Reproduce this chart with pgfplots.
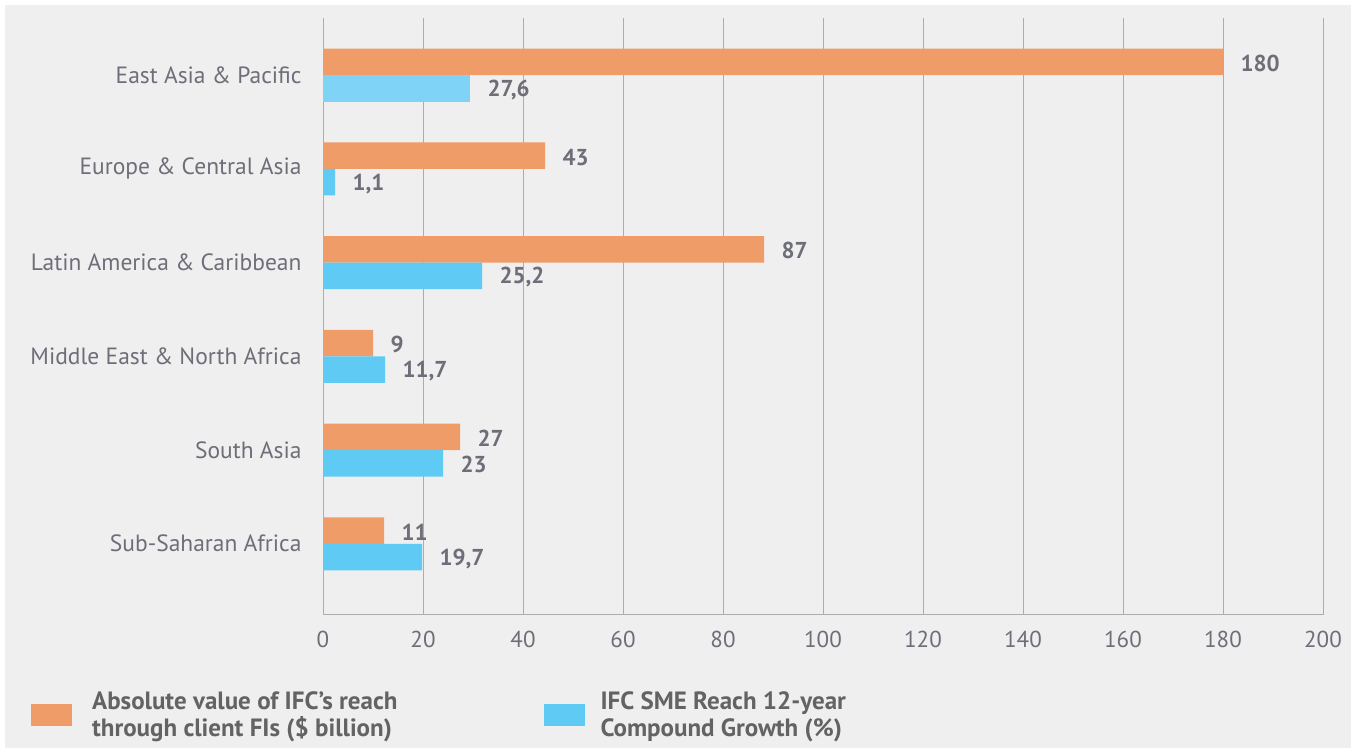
\documentclass[border=0pt]{standalone}
\usepackage{pgfplots}
\pgfplotsset{compat=1.18}
\usepackage{pgfplotstable}
\usepackage{fontspec}
\setmainfont{PT Sans}
\definecolor{bg}{HTML}{EFEFEF}
\definecolor{orng}{HTML}{F09C68}
\definecolor{blu}{HTML}{5FCBF5}
\definecolor{lblu}{HTML}{7FD3F6}
\definecolor{txt}{HTML}{6D6E78}
\definecolor{legtxt}{HTML}{636363}
\definecolor{grd}{HTML}{ADADAD}

\pgfplotstableread{
y orange olab
5 180  180
4 44.4 43
3 88.2 87
2 10   9
1 27.4 27
0 12.2 11
}\orangedata
\pgfplotstableread{
y blue blab
4 2.4  1,1
3 31.8 25,2
2 12.4 11,7
1 24   23
0 19.8 19,7
}\bluedata
\pgfplotstableread{
y blue blab
5 29.4 27,6
}\bluetop

\begin{document}
\begin{tikzpicture}[x=1bp,y=1bp]
\fill[white] (0,0) rectangle (1351,753);
\fill[bg] (5,5) rectangle (1351,748);
\begin{axis}[
  at={(323bp,138bp)}, anchor=south west,
  scale only axis, width=1000bp, height=597bp,
  xbar, bar width=26.5bp,
  xmin=0, xmax=200, ymin=-0.76, ymax=5.61,
  xtick={0,20,...,200},
  ytick={0,1,2,3,4,5},
  yticklabels={Sub-Saharan Africa, South Asia, Middle East \& North Africa, Latin America \& Caribbean, Europe \& Central Asia, East Asia \& Pacific},
  axis x line*=bottom, axis y line*=left,
  axis line style={grd, line width=1bp, -},
  major tick length=0pt,
  xmajorgrids, grid style={grd, line width=1bp},
  /pgf/number format/assume math mode=true,
  xticklabel style={font=\fontsize{23bp}{27bp}\selectfont, text=txt, yshift=-13bp},
  yticklabel style={font=\fontsize{23.5bp}{27bp}\selectfont, text=txt, xshift=-18bp},
  nodes near coords={\pgfplotspointmeta},
  point meta=explicit symbolic,
  every node near coord/.append style={font=\bfseries\fontsize{23bp}{27bp}\selectfont, text=txt, anchor=west, xshift=14bp, yshift=-1.5bp},
  legend columns=2,
  legend style={at={(-0.295,-0.125)}, anchor=north west, draw=none, fill=none,
    font=\bfseries\fontsize{25bp}{27bp}\selectfont, text=legtxt,
    nodes={align=left, inner sep=0pt},
    /tikz/every even column/.append style={column sep=146bp}},
  legend cell align=left,
  legend image code/.code={\fill[#1] (0bp,-11bp) rectangle (41bp,11bp);},
]
\addplot[fill=orng, draw=none, bar shift=13.25bp] table[x=orange, y=y, meta=olab] {\orangedata};
\addlegendentry{\hspace{20bp}Absolute value of IFC's reach\\\hspace{20bp}through client FIs (\$ billion)}
\addplot[fill=blu, draw=none, bar shift=-13.25bp] table[x=blue, y=y, meta=blab] {\bluedata};
\addlegendentry{\hspace{16bp}IFC SME Reach 12-year\\\hspace{16bp}Compound Growth (\%)}
\addplot[fill=lblu, draw=none, bar shift=-13.25bp, forget plot] table[x=blue, y=y, meta=blab] {\bluetop};
\end{axis}
\end{tikzpicture}
\end{document}
